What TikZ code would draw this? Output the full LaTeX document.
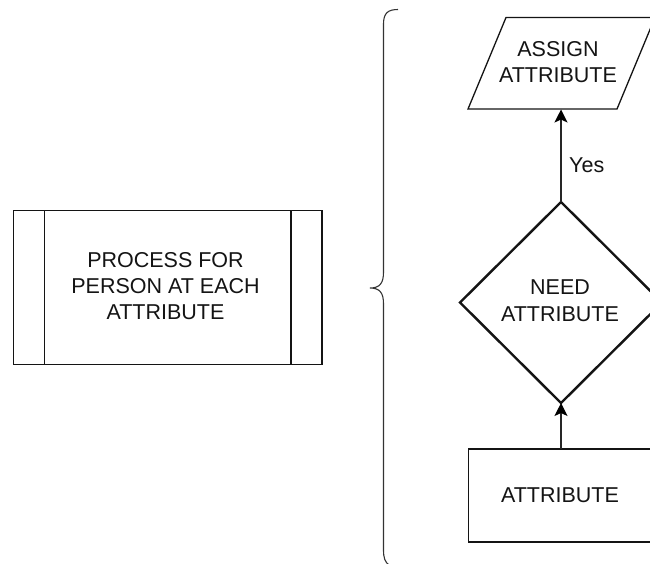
\documentclass[tikz,border=0pt]{standalone}
\usepackage{fontspec}
\setmainfont{Liberation Sans}
\usetikzlibrary{shapes.geometric,arrows.meta}
\begin{document}
\begin{tikzpicture}[x=1pt,y=-1pt,line join=miter,
  lbl/.style={font=\fontsize{21.5pt}{26.3pt}\selectfont,align=center,inner sep=0pt,text=black!92},
  box/.style={draw=black!92,line width=1.3pt,fill=white},
  conn/.style={draw=black!85,line width=1.2pt,-{Stealth[length=13pt,width=13pt,inset=3pt,color=black]}}]
\useasboundingbox (0,0) rectangle (650,563);
\fill[white] (0,0) rectangle (650,563);
% predefined process
\draw[box] (13.5,210.5) rectangle (322,364.5);
\coordinate (p1t) at (44.7,210.5);\coordinate (p1b) at (44.7,364.5);
\coordinate (p2t) at (291,210.5);\coordinate (p2b) at (291,364.5);
\draw[box] (p1t) -- (p1b) (p2t) -- (p2b);
\node[lbl] (ptext) at (165.5,286) {PROCESS FOR\\PERSON AT EACH\\ATTRIBUTE};
% brace
\draw[draw=black!80,line width=1.1pt] (398,9.5) .. controls (388,9.5) and (383.5,13) .. (383.5,24) -- (383.5,272) .. controls (383.5,283) and (380,288) .. (370,288) .. controls (380,288) and (383.5,293) .. (383.5,304) -- (383.5,550) .. controls (383.5,558) and (385,562) .. (389,565);
% shapes
\draw[box] (506,17.5) -- (655,17.5) -- (617,109) -- (468,109) -- cycle;
\coordinate (ptop) at (561,109.5);
\node[lbl] (assign) at (558,62) {ASSIGN\\ATTRIBUTE};
\draw[box,line width=2.4pt] (561,202) -- (662,302.5) -- (561,403) -- (460,302.5) -- cycle;
\coordinate (dtop) at (561,202);\coordinate (dbot) at (561,403);
\node[lbl] (need) at (560,300.8) {NEED\\ATTRIBUTE};
\draw[box] (468.5,449) rectangle (660,542);
\coordinate (atop) at (561,449);
\node[lbl,anchor=base] (attrt) at (560,502) {ATTRIBUTE};
\draw[conn] (dtop) -- (ptop);
\draw[conn] (atop) -- (dbot);
\node[lbl,anchor=base west] (yes) at (569,172) {Yes};
\end{tikzpicture}
\end{document}
